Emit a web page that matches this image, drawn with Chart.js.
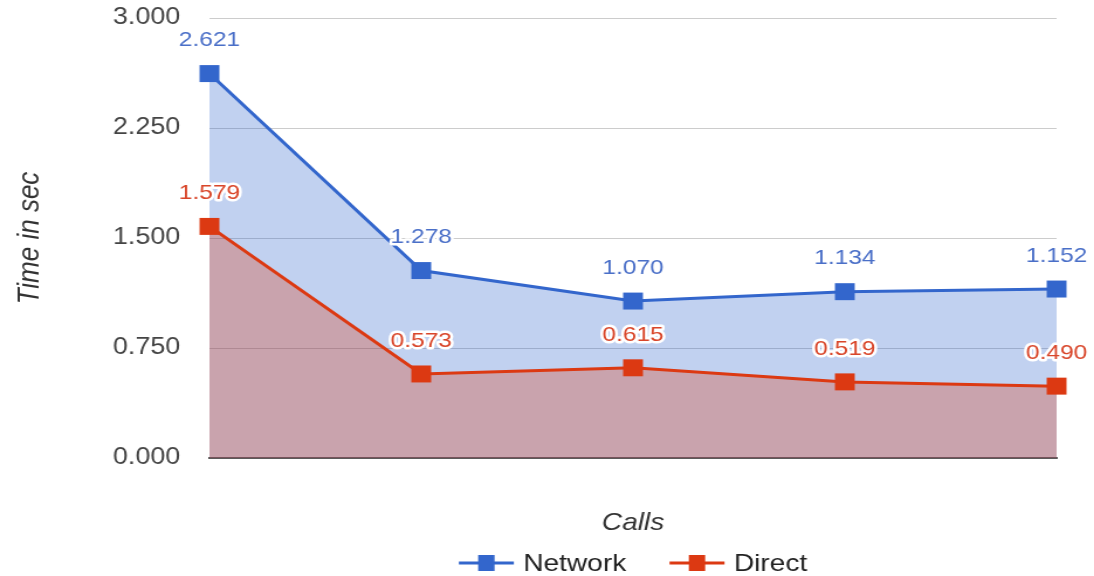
<!DOCTYPE html>
<html>
<head>
  <title>Network vs Direct</title>
  <script src="https://cdn.jsdelivr.net/npm/chart.js"></script>
  <style>
    html, body { margin: 0; padding: 0; background: #fff; overflow: hidden; }
    /* the reference is stretched sideways, so draw narrower and widen */
    #chartContainer {
      width: 935px;
      height: 576px;
      transform: scaleX(1.1701);
      transform-origin: 0 0;
    }
  </style>
</head>
<body>
  <div id="chartContainer">
    <canvas id="myChart"></canvas>
  </div>
  <script>
    // values
    const callLabels = ['', '', '', '', ''];
    const networkTimes = [2.621, 1.278, 1.070, 1.134, 1.152];
    const directTimes = [1.579, 0.573, 0.615, 0.519, 0.490];
    const yTicks = [0, 0.75, 1.5, 2.25, 3];

    const FONT = '"Liberation Sans", Arial, sans-serif';
    const BLUE = '#3366cc';
    const RED = '#dc3912';

    // value labels with a white halo above each point
    const valueLabels = {
      id: 'valueLabels',
      afterDatasetsDraw(chart) {
        const ctx = chart.ctx;
        ctx.save();
        ctx.font = '21px ' + FONT;
        ctx.textAlign = 'center';
        ctx.textBaseline = 'middle';
        ctx.lineJoin = 'round';
        chart.data.datasets.forEach((ds, i) => {
          const meta = chart.getDatasetMeta(i);
          meta.data.forEach((pt, j) => {
            const txt = ds.data[j].toFixed(3);
            ctx.lineWidth = 5;
            ctx.strokeStyle = '#fff';
            ctx.strokeText(txt, pt.x, pt.y - 33);
            ctx.fillStyle = ds.labelColor;
            ctx.fillText(txt, pt.x, pt.y - 33);
          });
        });
        ctx.restore();
      }
    };

    // legend under the axis title, centred on the plot area
    const bottomLegend = {
      id: 'bottomLegend',
      afterDraw(chart) {
        const ctx = chart.ctx;
        const area = chart.chartArea;
        const y = 563;
        const iconW = 47, iconGap = 8, itemGap = 37;
        ctx.save();
        ctx.font = '24px ' + FONT;
        ctx.textBaseline = 'middle';
        const items = chart.data.datasets.map(ds => ({
          text: ds.label, color: ds.borderColor, w: ctx.measureText(ds.label).width
        }));
        let total = 0;
        items.forEach((it, i) => { total += iconW + iconGap + it.w + (i ? itemGap : 0); });
        let x = (area.left + area.right) / 2 - total / 2;
        items.forEach((it, i) => {
          if (i) x += itemGap;
          ctx.strokeStyle = it.color;
          ctx.lineWidth = 3;
          ctx.beginPath(); ctx.moveTo(x, y); ctx.lineTo(x + iconW, y); ctx.stroke();
          ctx.fillStyle = it.color;
          ctx.fillRect(x + iconW / 2 - 7, y - 8, 14, 16);
          x += iconW + iconGap;
          ctx.fillStyle = '#222';
          ctx.fillText(it.text, x, y + 1);
          x += it.w;
        });
        ctx.restore();
      }
    };

    const ctx = document.getElementById('myChart').getContext('2d');
    new Chart(ctx, {
      type: 'line',
      data: {
        labels: callLabels,
        datasets: [{
          label: 'Network',
          data: networkTimes,
          order: 1,
          borderColor: BLUE,
          backgroundColor: 'rgba(51,102,204,0.3)',
          pointBackgroundColor: BLUE,
          labelColor: '#4a6fc8',
          fill: 'origin'
        }, {
          label: 'Direct',
          data: directTimes,
          order: 0,
          borderColor: RED,
          backgroundColor: 'rgba(220,57,18,0.3)',
          pointBackgroundColor: RED,
          labelColor: '#d9462a',
          fill: 'origin'
        }]
      },
      options: {
        responsive: true,
        maintainAspectRatio: false,
        animation: false,
        layout: { padding: { top: 18, right: 32, left: 0, bottom: 0 } },
        elements: {
          line: { borderWidth: 3, tension: 0 },
          point: { pointStyle: 'rect', radius: 12, borderWidth: 0, hoverRadius: 12 }
        },
        scales: {
          x: {
            offset: false,
            afterFit(scale) { scale.height = 118; },
            grid: { display: false },
            border: { display: true, color: '#5a5a5a', width: 2 },
            ticks: { display: false },
            title: {
              display: true,
              text: 'Calls',
              color: '#333',
              font: { family: FONT, size: 24, style: 'italic' },
              padding: { top: 0, bottom: 38 }
            }
          },
          y: {
            min: 0,
            max: 3,
            afterBuildTicks(scale) { scale.ticks = yTicks.map(v => ({ value: v })); },
            afterFit(scale) { scale.width = 179; scale.paddingTop = 0; scale.paddingBottom = 0; },
            grid: { color: '#cccccc', drawTicks: false },
            border: { display: false },
            ticks: {
              color: '#444',
              padding: 25,
              font: { family: FONT, size: 23 },
              callback: v => v.toFixed(3)
            },
            title: {
              display: true,
              text: 'Time in sec',
              color: '#333',
              font: { family: FONT, size: 26, style: 'italic' },
              padding: { top: 10, bottom: 0 }
            }
          }
        },
        plugins: {
          legend: { display: false },
          tooltip: { enabled: false }
        }
      },
      plugins: [valueLabels, bottomLegend]
    });
  </script>
</body>
</html>
